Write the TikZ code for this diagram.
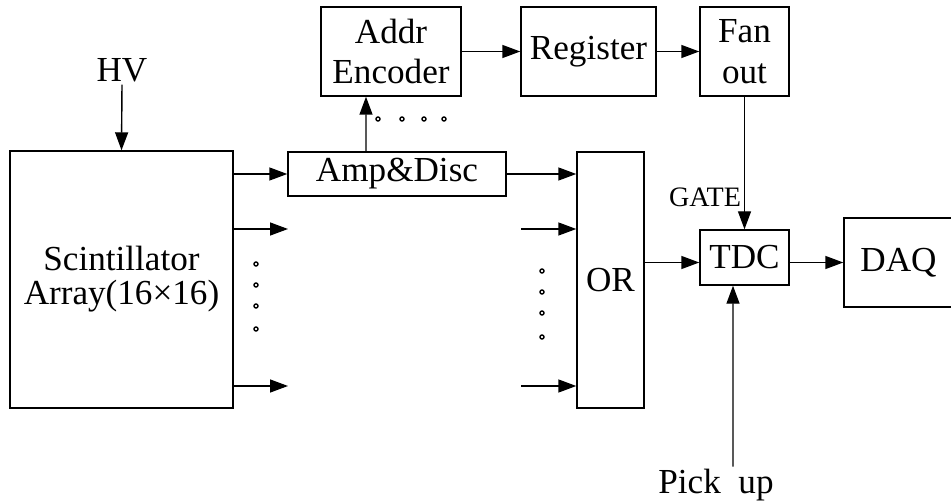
\documentclass[tikz,border=0pt]{standalone}
\usepackage{fontspec}
\setmainfont{Liberation Serif}
\usepackage{tikz}
\usetikzlibrary{arrows.meta,calc}

\begin{document}
\begin{tikzpicture}[
    blk/.style={draw, line width=0.8pt, inner sep=0pt, align=center, font=\fontsize{20}{23.3}\selectfont},
    arr/.style={line width=0.8pt, -{Triangle[length=3.6mm,width=2.6mm]}},
    lbl/.style={inner sep=1pt, font=\fontsize{20}{24}\selectfont},
    every node/.style={text=black}
]
\useasboundingbox (0,0) rectangle (19.02,10.04);
% ---- boxes ----
\node[blk, minimum width=4.46cm, minimum height=5.14cm, font=\fontsize{20}{19.4}\selectfont] (scint) at (2.43,4.45) {Scintillator\\Array(16×16)};
\node[blk, minimum width=4.36cm, minimum height=0.88cm] (amp) at (7.94,6.56) {Amp\&Disc};
\node[blk, minimum width=2.8cm, minimum height=1.78cm] (addr) at (7.82,9.01) {Addr\\Encoder};
\node[blk, minimum width=2.7cm, minimum height=1.78cm] (reg) at (11.77,9.01) {Register};
\node[blk, minimum width=1.78cm, minimum height=1.78cm] (fan) at (14.89,9.01) {Fan\\out};
\node[blk, minimum width=1.34cm, minimum height=5.12cm] (or) at (12.21,4.44) {OR};
\node[blk, minimum width=1.78cm, minimum height=1.1cm] (tdc) at (14.89,4.89) {TDC};
\node[blk, minimum width=2.18cm, minimum height=1.78cm] (daq) at (17.97,4.79) {DAQ};

% ---- labels ----
\node[lbl, anchor=base] (hv) at (2.44,8.4) {HV};
\node[lbl, anchor=base] (pick) at (14.32,0.18) {Pick\ \ up};
\node[inner sep=1pt, anchor=base, font=\fontsize{16}{18}\selectfont] (gate) at (14.1,5.9) {GATE};

% free ends of the channel arrows
\coordinate (s2) at (5.76,5.46);
\coordinate (s3) at (5.76,2.32);
\coordinate (o2) at (10.42,5.46);
\coordinate (o3) at (10.42,2.32);

% ---- connections ----
\draw[arr] (hv.south) -- (scint.north);
\draw[arr] (scint.east |- amp.west) -- (amp.west);
\draw[arr] (scint.east |- s2) -- (s2);
\draw[arr] (scint.east |- s3) -- (s3);
\draw[arr] (amp.east) -- (or.west |- amp.east);
\draw[arr] (o2) -- (or.west |- o2);
\draw[arr] (o3) -- (or.west |- o3);
\draw[arr] ([xshift=-0.62cm]amp.north) -- ([xshift=-0.5cm]addr.south);
\draw[arr] (addr.east) -- (reg.west);
\draw[arr] (reg.east) -- (fan.west);
\draw[arr] (fan.south) -- (tdc.north);
\draw[arr] (or.east |- daq.west) -- (tdc.west |- daq.west);
\draw[arr] (tdc.east |- daq.west) -- (daq.west);
\draw[arr] ([xshift=0.34cm]pick.north) -- ([xshift=-0.23cm]tdc.south);

% ---- dots ----
\foreach \x in {7.56,8.04,8.48,8.88}
  \draw[line width=0.8pt] (\x,7.66) circle (0.04);
\foreach \y in {4.76,4.34,3.92,3.46}
  \draw[line width=0.8pt] (5.12,\y) circle (0.04);
\foreach \y in {4.62,4.2,3.78,3.3}
  \draw[line width=0.8pt] (10.84,\y) circle (0.04);
\end{tikzpicture}
\end{document}
